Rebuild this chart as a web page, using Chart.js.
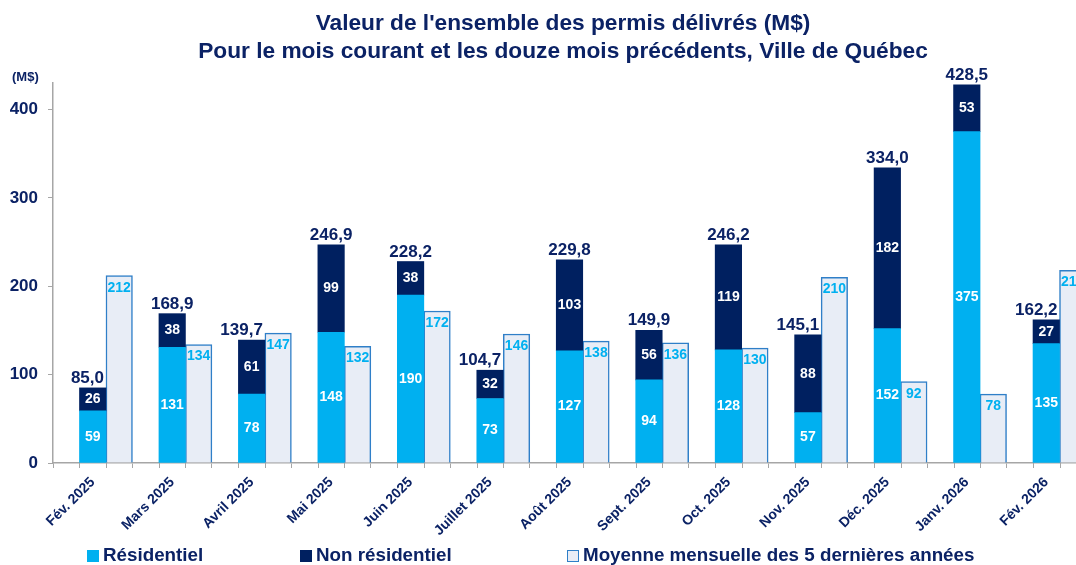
<!DOCTYPE html>
<html lang="fr">
<head>
<meta charset="utf-8">
<script src="https://cdn.jsdelivr.net/npm/chart.js@4"></script>
<style>
  html, body { margin: 0; padding: 0; background: #fff; overflow: hidden; }
  #wrap { position: relative; width: 1090px; height: 565px; }
  #titre { position: absolute; left: 0; top: 8px; width: 1126px; text-align: center;
           font: bold 22.7px "Liberation Sans", Arial, sans-serif; color: #0B2265; line-height: 28px; }
  #legende { position: absolute; left: 0; top: 544px; width: 1090px; height: 22px;
             font: bold 18.8px "Liberation Sans", Arial, sans-serif; color: #0B2265; }
  .leg-item { position: absolute; top: 0; white-space: nowrap; line-height: 22px; }
  .leg-box { display: inline-block; width: 12px; height: 12px; box-sizing: border-box;
             vertical-align: -1px; margin-right: 4px; }
</style>
</head>
<body>
<div id="wrap">
  <div id="titre">Valeur de l'ensemble des permis délivrés (M$)<br>Pour le mois courant et les douze mois précédents, Ville de Québec</div>
  <canvas id="chart" width="1090" height="565"></canvas>
  <div id="legende"></div>
</div>
<script>
// Données
const mois = ['Fév. 2025', 'Mars 2025', 'Avril 2025', 'Mai 2025', 'Juin 2025', 'Juillet 2025',
  'Août 2025', 'Sept. 2025', 'Oct. 2025', 'Nov. 2025', 'Déc. 2025', 'Janv. 2026', 'Fév. 2026'];
const residentiel    = [59, 131, 78, 148, 190, 73, 127, 94, 128, 57, 152, 375, 135];
const nonResidentiel = [26, 38, 61, 99, 38, 32, 103, 56, 119, 88, 182, 53, 27];
const totaux         = [85.0, 168.9, 139.7, 246.9, 228.2, 104.7, 229.8, 149.9, 246.2, 145.1, 334.0, 428.5, 162.2];
const moyenne5ans    = [212, 134, 147, 132, 172, 146, 138, 136, 130, 210, 92, 78, 218];
const yTicks         = [0, 100, 200, 300, 400];

const MARINE = '#0B2265';
const CYAN = '#00B0F0';
const FONT = '"Liberation Sans", Arial, sans-serif';

// étiquettes de valeurs + petits repères de l'axe X
const etiquettes = {
  id: 'etiquettes',
  afterDatasetsDraw(chart) {
    const ctx = chart.ctx;
    const res = chart.getDatasetMeta(1).data;
    const non = chart.getDatasetMeta(2).data;
    const moy = chart.getDatasetMeta(3).data;
    ctx.save();
    ctx.textBaseline = 'middle';
    ctx.textAlign = 'center';
    ctx.font = 'bold 14px ' + FONT;
    ctx.fillStyle = '#fff';
    res.forEach((el, i) => ctx.fillText(residentiel[i], el.x, (el.y + el.base) / 2));
    non.forEach((el, i) => ctx.fillText(nonResidentiel[i], el.x, (el.y + el.base) / 2));
    ctx.fillStyle = CYAN;
    moy.forEach((el, i) => ctx.fillText(moyenne5ans[i], el.x, el.y + 12));

    ctx.font = 'bold 17px ' + FONT;
    ctx.fillStyle = MARINE;
    ctx.textBaseline = 'alphabetic';
    non.forEach((el, i) => {
      const txt = totaux[i].toFixed(1).replace('.', ',');
      if (moyenne5ans[i] > totaux[i]) {
        ctx.textAlign = 'right';
        ctx.fillText(txt, el.x + el.width / 2 - 2, el.y - 5);
      } else {
        ctx.textAlign = 'center';
        ctx.fillText(txt, el.x, el.y - 5);
      }
    });

    ctx.font = 'bold 13px ' + FONT;
    ctx.textAlign = 'left';
    ctx.fillText('(M$)', 12, 81);
    ctx.restore();
  },
  afterDraw(chart) {
    const x = chart.scales.x;
    const ctx = chart.ctx;
    const w = x.width / mois.length;
    ctx.save();
    ctx.strokeStyle = '#A6A6A6';
    ctx.lineWidth = 1;
    ctx.beginPath();
    mois.forEach((m, i) => {
      const left = x.getPixelForValue(i) - w / 2;
      [1, 2].forEach(k => {
        const px = Math.round(left + k * w / 3) + 0.5;
        ctx.moveTo(px, x.top);
        ctx.lineTo(px, x.top + 5);
      });
    });
    ctx.stroke();
    ctx.restore();
  }
};

const chart = new Chart(document.getElementById('chart'), {
  type: 'bar',
  data: {
    labels: mois,
    datasets: [
      { label: '', data: mois.map(() => null), stack: 'vide' },
      { label: 'Résidentiel', data: residentiel, stack: 'permis', backgroundColor: CYAN, borderWidth: 0 },
      { label: 'Non résidentiel', data: nonResidentiel, stack: 'permis', backgroundColor: '#002060', borderWidth: 0 },
      { label: 'Moyenne mensuelle des 5 dernières années', data: moyenne5ans, stack: 'moyenne',
        backgroundColor: '#E8EDF6', borderColor: '#2F7FC8', borderWidth: 1.5 },
    ],
  },
  options: {
    responsive: false,
    devicePixelRatio: 1,
    animation: false,
    layout: { padding: { top: 83, right: 4, left: 0, bottom: 0 } },
    datasets: { bar: { categoryPercentage: 1, barPercentage: 1 } },
    plugins: {
      legend: { display: false },
      tooltip: { enabled: false },
    },
    scales: {
      x: {
        stacked: true,
        grid: { drawOnChartArea: false, tickLength: 5, color: '#A6A6A6' },
        border: { color: '#A6A6A6', width: 1.5 },
        ticks: { color: MARINE, font: { family: FONT, size: 14, weight: 'bold' },
                 minRotation: 45, maxRotation: 45, autoSkip: false, padding: 6 },
        afterFit: s => { s.height = 102; },
      },
      y: {
        stacked: true,
        min: 0,
        max: 430,
        grid: { drawOnChartArea: false, tickLength: 5, color: '#A6A6A6' },
        border: { color: '#A6A6A6', width: 1.5 },
        ticks: { color: MARINE, font: { family: FONT, size: 17, weight: 'bold' }, padding: 10, stepSize: 100 },
        afterBuildTicks: s => { s.ticks = yTicks.map(v => ({ value: v })); },
        afterFit: s => { s.width = 53; },
      },
    },
  },
  plugins: [etiquettes],
});

// légende HTML construite à partir des séries
const positions = [87, 300, 567];
const leg = document.getElementById('legende');
chart.data.datasets.slice(1).forEach((ds, i) => {
  const item = document.createElement('div');
  item.className = 'leg-item';
  item.style.left = positions[i] + 'px';
  const box = document.createElement('span');
  box.className = 'leg-box';
  box.style.background = ds.backgroundColor;
  if (ds.borderWidth) box.style.border = '1.5px solid ' + ds.borderColor;
  item.appendChild(box);
  item.appendChild(document.createTextNode(ds.label));
  leg.appendChild(item);
});
</script>
</body>
</html>
